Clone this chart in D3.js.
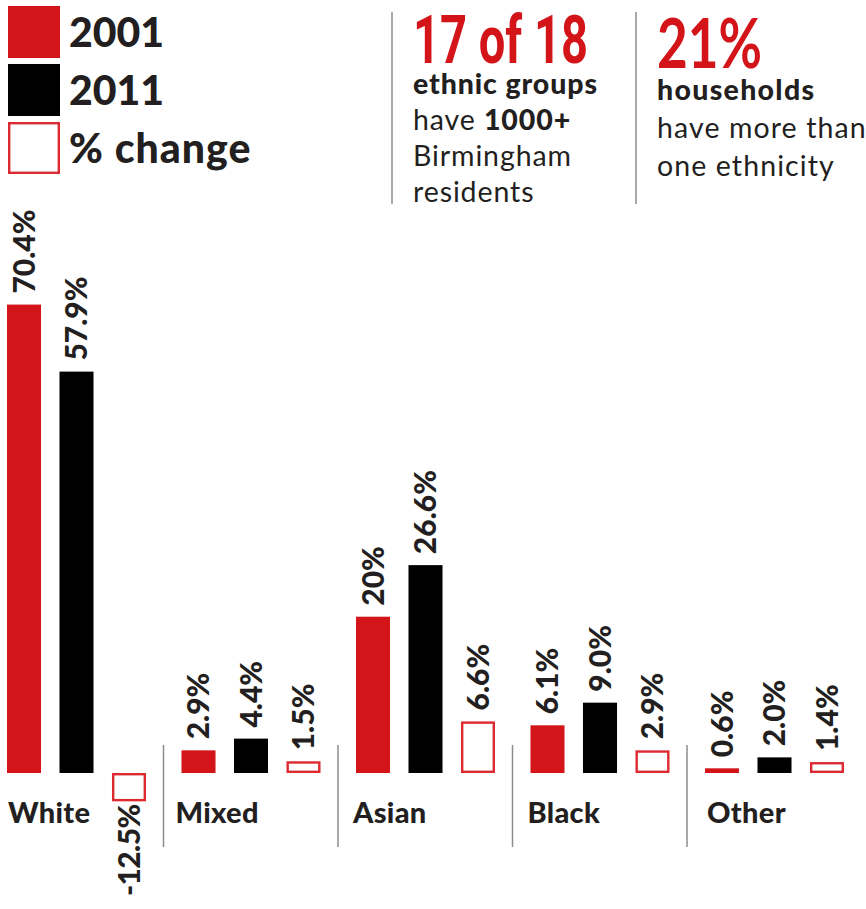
<!DOCTYPE html>
<html>
<head>
<meta charset="utf-8">
<script src="https://cdn.jsdelivr.net/npm/d3@7"></script>
<style>
  html, body { margin: 0; padding: 0; background: #fff; }
  svg { display: block; font-family: Lato, "Open Sans", sans-serif; }
</style>
</head>
<body>
<svg id="chart" width="866" height="909"></svg>
<script>
// Ethnic groups in Birmingham, share of population (%)
const categories = ["White", "Mixed", "Asian", "Black", "Other"];
const values2001 = [70.4, 2.9, 20, 6.1, 0.6];
const values2011 = [57.9, 4.4, 26.6, 9.0, 2.0];
const valuesChange = [-12.5, 1.5, 6.6, 2.9, 1.4];
const labels2001 = ["70.4%", "2.9%", "20%", "6.1%", "0.6%"];
const labels2011 = ["57.9%", "4.4%", "26.6%", "9.0%", "2.0%"];
const labelsChange = ["-12.5%", "1.5%", "6.6%", "2.9%", "1.4%"];
const seriesKeys = ["2001", "2011", "change"];
const legendLabels = ["2001", "2011", "% change"];

const RED = "#d31519", BLACK = "#000000", INK = "#231f20", OUTLINE = "#dd2a30", RULE = "#8c8c8c";

const svg = d3.select("#chart");
const baseline = 773;

// Group and bar positions
const x0 = d3.scaleBand().domain(categories).range([7, 7 + 5 * 174.5]).paddingInner(0).paddingOuter(0);
const x1 = d3.scaleBand().domain(seriesKeys).range([0, 139]).paddingInner(0.352).paddingOuter(0);

// Broken value axis: full scale for small shares, compressed for the large White shares and below zero
const y = d3.scaleLinear()
  .domain([-15, 0, 27, 58, 72])
  .range([baseline + 34, baseline, baseline - 211, baseline - 402, baseline - 477]);

const rows = categories.map((c, i) => ({
  cat: c,
  bars: [
    { key: "2001", v: values2001[i], label: labels2001[i] },
    { key: "2011", v: values2011[i], label: labels2011[i] },
    { key: "change", v: valuesChange[i], label: labelsChange[i] }
  ]
}));

const groups = svg.selectAll("g.group").data(rows).join("g")
  .attr("class", "group")
  .attr("transform", d => `translate(${x0(d.cat)},0)`);

// Bars
groups.selectAll("rect.bar").data(d => d.bars).join("rect")
  .attr("class", "bar")
  .each(function(d) {
    const sel = d3.select(this);
    const bw = x1.bandwidth();
    const top = Math.min(y(d.v), y(0));
    const h = Math.abs(y(d.v) - y(0));
    if (d.key === "change") {
      sel.attr("x", x1(d.key) + 1.2).attr("y", top + 1.2)
        .attr("width", bw - 2.4).attr("height", Math.max(h - 2.4, 0))
        .attr("fill", "#fff").attr("stroke", OUTLINE).attr("stroke-width", 2.4);
    } else {
      sel.attr("x", x1(d.key)).attr("y", top)
        .attr("width", bw).attr("height", h)
        .attr("fill", d.key === "2001" ? RED : BLACK);
    }
  });

// Rotated value labels
groups.selectAll("text.val").data(d => d.bars).join("text")
  .attr("class", "val")
  .attr("transform", d => {
    const cx = x1(d.key) + x1.bandwidth() / 2;
    const yy = d.v >= 0 ? y(d.v) - 11 : y(d.v) + 3;
    return `translate(${cx},${yy}) rotate(-90)`;
  })
  .attr("text-anchor", d => d.v >= 0 ? "start" : "end")
  .attr("dy", "0.36em")
  .attr("font-size", 30)
  .attr("font-weight", 900)
  .attr("letter-spacing", d => d.v < 0 ? -0.6 : 0)
  .attr("fill", INK)
  .text(d => d.label);

// Category labels
groups.append("text")
  .attr("x", (d, i) => [1, -6, -3, -3, 2][i])
  .attr("y", 823)
  .attr("font-size", 29)
  .attr("font-weight", 900)
  .attr("letter-spacing", 0.3)
  .attr("fill", INK)
  .text(d => d.cat);

// Separators between groups
svg.selectAll("line.sep").data(categories.slice(1)).join("line")
  .attr("class", "sep")
  .attr("x1", d => x0(d) - 18).attr("x2", d => x0(d) - 18)
  .attr("y1", 745).attr("y2", 847)
  .attr("stroke", RULE).attr("stroke-width", 1.5);

// Legend
const legend = svg.append("g");
legendLabels.forEach((lab, i) => {
  const gy = 6 + i * 58;
  if (i < 2) {
    legend.append("rect").attr("x", 8).attr("y", gy).attr("width", 52).attr("height", 52)
      .attr("fill", i === 0 ? RED : BLACK);
  } else {
    legend.append("rect").attr("x", 9.2).attr("y", gy + 1.2).attr("width", 49.6).attr("height", 49.6)
      .attr("fill", "#fff").attr("stroke", OUTLINE).attr("stroke-width", 2.4);
  }
  legend.append("text").attr("x", 69).attr("y", gy + 41)
    .attr("font-size", 41).attr("font-weight", 900).attr("fill", INK)
    .attr("letter-spacing", i === 2 ? 1 : 0).text(lab);
});

// Key facts panel
svg.append("line").attr("x1", 392).attr("x2", 392).attr("y1", 12).attr("y2", 204)
  .attr("stroke", RULE).attr("stroke-width", 1.5);
svg.append("line").attr("x1", 636).attr("x2", 636).attr("y1", 12).attr("y2", 204)
  .attr("stroke", RULE).attr("stroke-width", 1.5);

svg.append("text").attr("x", 413).attr("y", 63)
  .attr("font-family", "Roboto, sans-serif").attr("font-size", 67).attr("font-weight", 700)
  .attr("fill", RED).attr("textLength", 175).attr("lengthAdjust", "spacingAndGlyphs")
  .text("17 of 18");

svg.append("text").attr("x", 657).attr("y", 68)
  .attr("font-size", 68).attr("font-weight", 700)
  .attr("fill", RED).attr("textLength", 105).attr("lengthAdjust", "spacingAndGlyphs")
  .text("21%");

const leftLines = [
  [{ t: "ethnic groups", b: true }],
  [{ t: "have ", b: false }, { t: "1000+", b: true }],
  [{ t: "Birmingham", b: false }],
  [{ t: "residents", b: false }]
];
leftLines.forEach((parts, i) => {
  const t = svg.append("text").attr("x", 413).attr("y", 94 + i * 36)
    .attr("font-size", 28.5).attr("letter-spacing", 0.9).attr("fill", INK);
  parts.forEach(p => t.append("tspan").attr("font-weight", p.b ? 900 : 400).text(p.t));
});

const rightLines = [
  { t: "households", b: true },
  { t: "have more than", b: false },
  { t: "one ethnicity", b: false }
];
rightLines.forEach((p, i) => {
  svg.append("text").attr("x", 657).attr("y", 100 + i * 38)
    .attr("font-size", 28.5).attr("letter-spacing", p.b ? 1.3 : 1.1)
    .attr("font-weight", p.b ? 900 : 400).attr("fill", INK)
    .text(p.t);
});
</script>
</body>
</html>
